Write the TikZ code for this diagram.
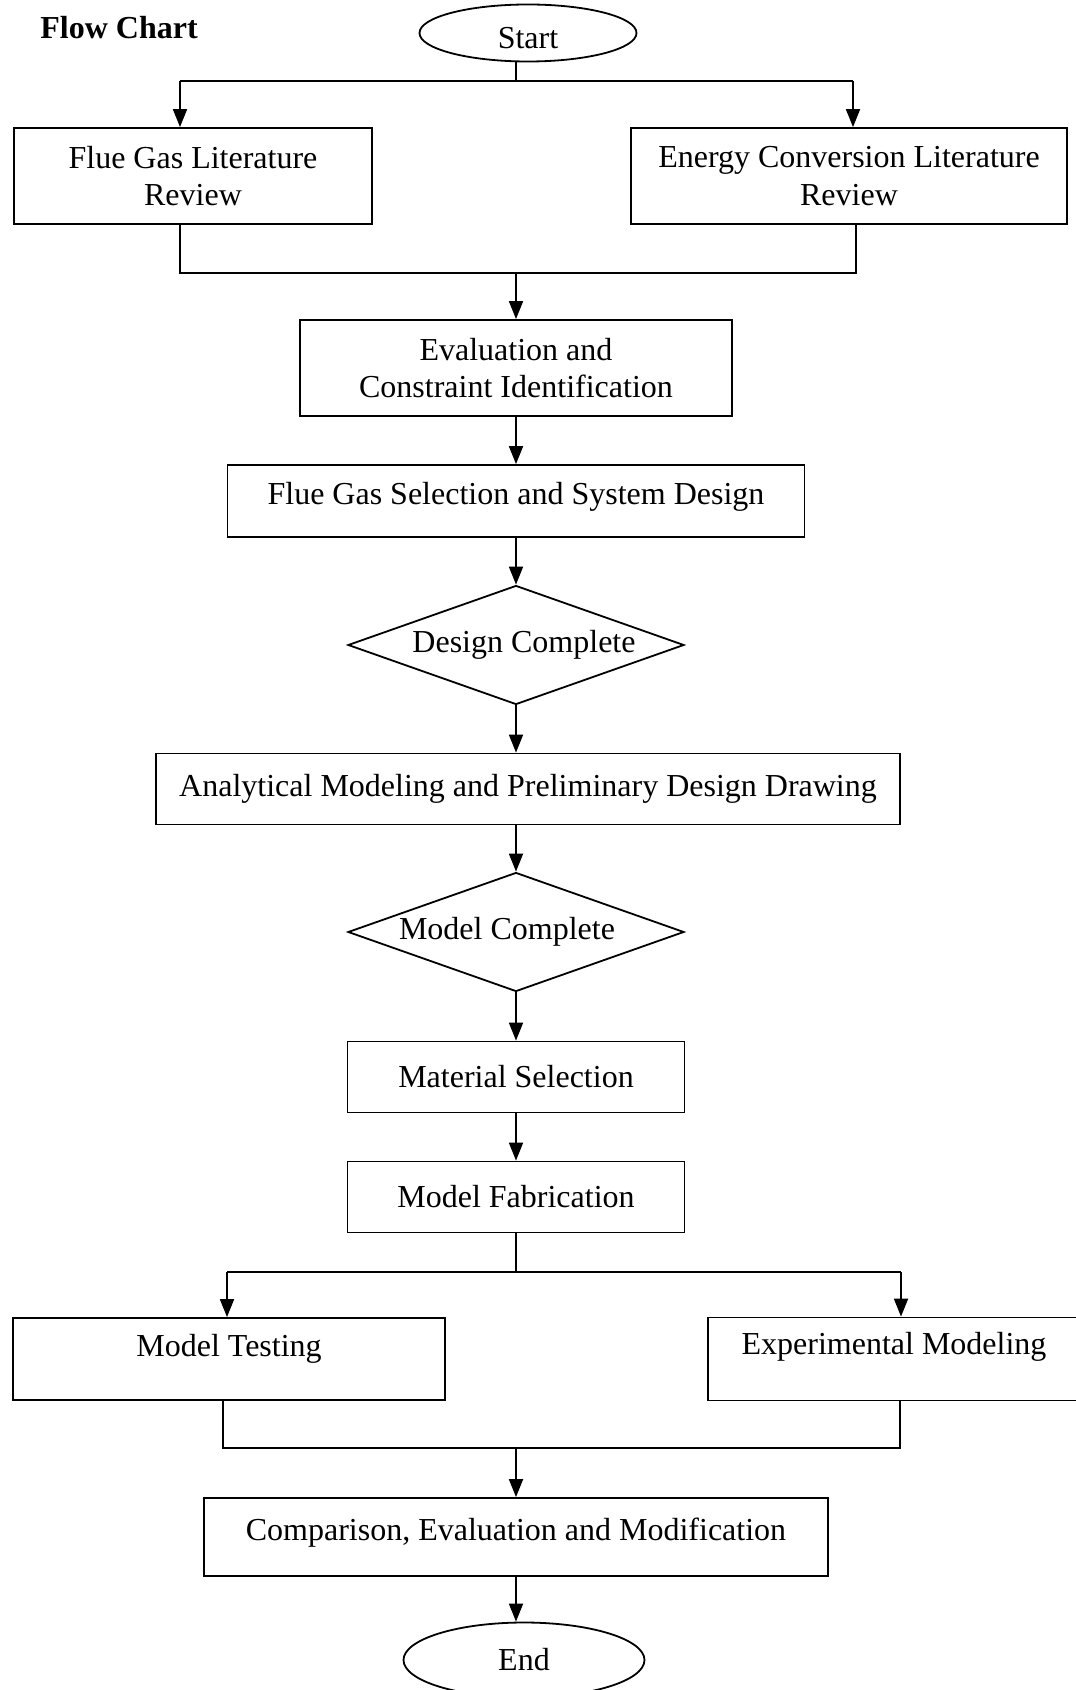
\documentclass[tikz,border=0pt]{standalone}
\usepackage{fontspec}
\setmainfont{Liberation Serif}
\usetikzlibrary{shapes.geometric,arrows.meta}

\begin{document}
\begin{tikzpicture}[x=0.5pt, y=-0.5pt, >={Triangle[length=9pt,width=7pt]}, line width=0.9pt,
  every node/.style={font=\fontsize{16pt}{18.9pt}\selectfont, inner sep=2pt},
  box/.style={rectangle, draw, align=center},
  term/.style={ellipse, draw},
  choice/.style={diamond, draw, aspect=2.8, inner sep=0pt, minimum width=168pt, minimum height=59.5pt}]

\useasboundingbox (0,0) rectangle (1075,1690);

\node[term, minimum width=108.5pt, minimum height=24.5pt, text height=16pt] (start) at (528,33) {Start};
\node[font=\fontsize{16pt}{18.9pt}\selectfont\bfseries] (title) [node distance=204.5pt, left of=start, yshift=2.5pt] {Flow Chart};
\node[box, minimum width=179pt, minimum height=48pt] (flue) [node distance=71.5pt, below of=start, xshift=-167.5pt] {Flue Gas Literature\\Review};
\node[box, minimum width=218pt, minimum height=48pt] (energy) [node distance=328pt, right of=flue] {Energy Conversion Literature\\Review};
\node[box, minimum width=216pt, minimum height=48pt] (eval) [node distance=167.5pt, below of=start, xshift=-6pt] {Evaluation and\\Constraint Identification};
\node[box, minimum width=288.5pt, minimum height=36pt, text depth=7.5pt] (sel) [node distance=66.5pt, below of=eval] {Flue Gas Selection and System Design};
\node[choice] (design) [node distance=72pt, below of=sel] {\hspace*{8pt}Design Complete};
\node[box, minimum width=372pt, minimum height=35.5pt] (anal) [node distance=72pt, below of=design, xshift=6pt] {Analytical Modeling and Preliminary Design Drawing};
\node[choice] (model) [node distance=71.5pt, below of=anal, xshift=-6pt] {Model Complete\hspace*{9pt}};
\node[box, minimum width=168.5pt, minimum height=35.5pt] (mat) [node distance=72.5pt, below of=model] {Material Selection};
\node[box, minimum width=168.5pt, minimum height=35.5pt] (fab) [node distance=60pt, below of=mat] {Model Fabrication};
\node[box, minimum width=216pt, minimum height=41pt, text depth=13.5pt] (test) [node distance=81pt, below of=fab, xshift=-143.5pt] {Model Testing};
\node[box, minimum width=186pt, minimum height=41.5pt, text depth=15.5pt] (expm) [node distance=332.5pt, right of=test] {Experimental Modeling};
\node[box, minimum width=312pt, minimum height=39pt, text depth=8pt] (comp) [node distance=170pt, below of=fab] {Comparison, Evaluation and Modification};
\node[term, minimum width=120.5pt, minimum height=37.5pt] (end) [node distance=61.5pt, below of=comp, xshift=4pt] {End};

\coordinate (forkL) at (180,81);
\coordinate (forkR) at (853,81);
\coordinate (joinL) at (180,273);
\coordinate (joinR) at (856,273);
\coordinate (splitL) at (227,1272);
\coordinate (splitR) at (901,1272);
\coordinate (mergeL) at (223,1448);
\coordinate (mergeR) at (900,1448);

\draw (eval.north |- start.south) -- (eval.north |- forkL);
\draw (forkL) -- (forkR);
\draw[->] (forkL) -- (forkL |- flue.north);
\draw[->] (forkR) -- (forkR |- energy.north);
\draw (forkL |- flue.south) -- (joinL) -- (joinR) -- (joinR |- energy.south);
\draw[->] (eval.north |- joinL) -- (eval.north);
\draw[->] (eval) -- (sel);
\draw[->] (sel) -- (design);
\draw[->] (design.south) -- (design.south |- anal.north);
\draw[->] (model.north |- anal.south) -- (model.north);
\draw[->] (model) -- (mat);
\draw[->] (mat) -- (fab);
\draw (fab.south) -- (fab.south |- splitL);
\draw (splitL) -- (splitR);
\draw[->] (splitL) -- (splitL |- test.north);
\draw[->] (splitR) -- (splitR |- expm.north);
\draw (mergeL |- test.south) -- (mergeL) -- (mergeR) -- (mergeR |- expm.south);
\draw[->] (comp.north |- mergeL) -- (comp.north);
\draw[->] (comp.south) -- (comp.south |- end.north);

\end{tikzpicture}
\end{document}
